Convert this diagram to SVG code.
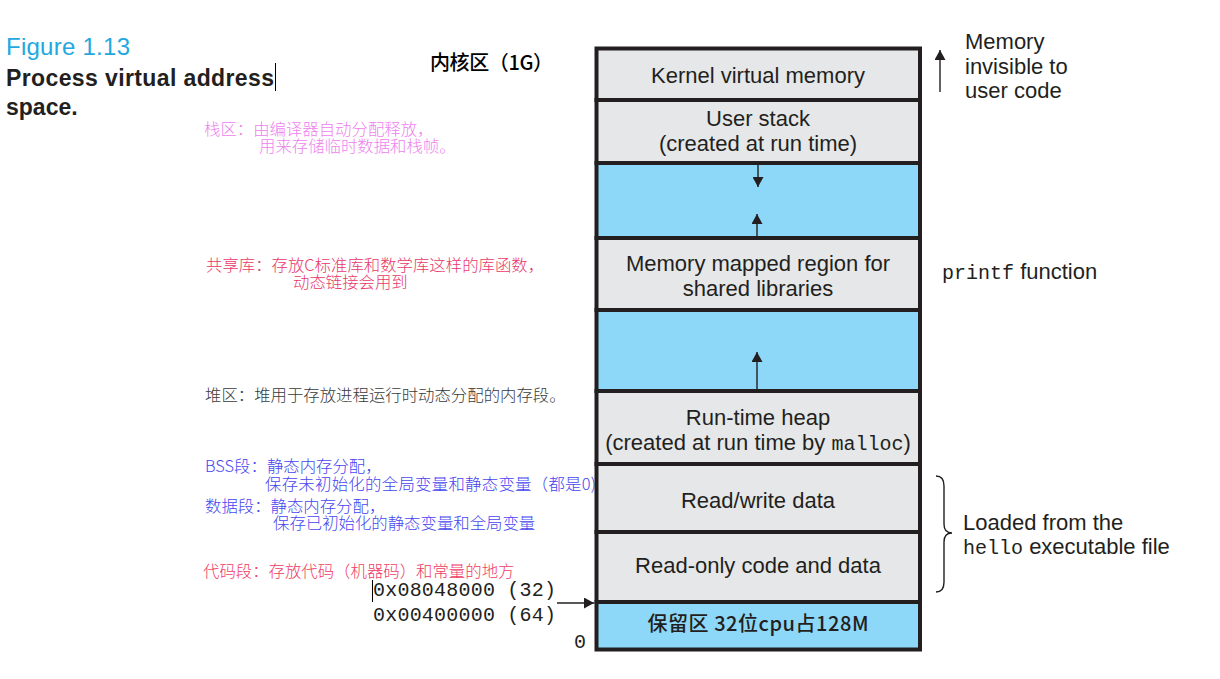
<svg xmlns="http://www.w3.org/2000/svg" width="1220" height="679" viewBox="0 0 1220 679">
<style>
.box{stroke:#231f20;stroke-width:4}
.gray{fill:#e6e7e8}
.blue{fill:#8dd8f8}
.lbl{font-family:"Liberation Sans",Arial,sans-serif;font-size:22px;fill:#231f20;text-anchor:middle}
.side{font-family:"Liberation Sans",Arial,sans-serif;font-size:22px;fill:#231f20}
.mono{font-family:"Liberation Mono","Courier New",monospace;font-size:20px}
.cjk{font-family:"Noto Sans CJK SC",sans-serif;font-size:16.4px;font-weight:300}
.addr{font-family:"Liberation Mono","Courier New",monospace;font-size:20px;fill:#231f20}
.conn{stroke:#231f20;stroke-width:1.4;fill:none}
</style>
<defs>
<marker id="ah" viewBox="0 0 10 10" refX="10" refY="5" markerWidth="10" markerHeight="11" orient="auto" markerUnits="userSpaceOnUse" preserveAspectRatio="none">
<path d="M0,0 L10,5 L0,10 z" fill="#231f20"/>
</marker>
</defs>
<rect width="1220" height="679" fill="#ffffff"/>

<g id="title">
<text x="6" y="55" font-family="'Liberation Sans',Arial,sans-serif" font-size="24" fill="#22a8e0" textLength="124">Figure 1.13</text>
<text x="6" y="86" font-family="'Liberation Sans',Arial,sans-serif" font-size="23" font-weight="bold" fill="#231f20" textLength="268">Process virtual address</text>
<text x="6" y="115" font-family="'Liberation Sans',Arial,sans-serif" font-size="23" font-weight="bold" fill="#231f20">space.</text>
<line x1="275.5" y1="63" x2="275.5" y2="91" stroke="#000" stroke-width="1"/>
</g>

<g id="notes">
<text x="430" y="70" font-family="'Noto Sans CJK SC',sans-serif" font-size="20" font-weight="500" fill="#000" textLength="123">内核区（1G）</text>
<g class="cjk" fill="#ee82ee">
<text x="204" y="135">栈区：由编译器自动分配释放，</text>
<text x="259" y="152">用来存储临时数据和栈帧。</text>
</g>
<g class="cjk" fill="#e8386a">
<text x="206" y="271">共享库：存放C标准库和数学库这样的库函数，</text>
<text x="293" y="288">动态链接会用到</text>
</g>
<text class="cjk" x="205" y="401" fill="#3a3a3a">堆区：堆用于存放进程运行时动态分配的内存段。</text>
<g class="cjk" fill="#4646f0">
<text x="205" y="472">BSS段：静态内存分配，</text>
<text x="265" y="490" textLength="331">保存未初始化的全局变量和静态变量（都是0)</text>
<text x="205" y="512">数据段：静态内存分配，</text>
<text x="273" y="529">保存已初始化的静态变量和全局变量</text>
</g>
<text class="cjk" x="203" y="577" fill="#f03c64">代码段：存放代码（机器码）和常量的地方</text>
<text class="addr" x="373" y="596" textLength="183">0x08048000 (32)</text>
<text class="addr" x="373" y="621" textLength="183">0x00400000 (64)</text>
<text class="addr" x="574" y="648">0</text>
<line x1="372.5" y1="580" x2="372.5" y2="602" stroke="#000" stroke-width="1"/>
</g>

<g id="kernel">
<rect class="box gray" x="596.5" y="48.5" width="323.5" height="51.5"/>
<text class="lbl" x="758" y="83">Kernel virtual memory</text>
</g>
<g id="user-stack">
<rect class="box gray" x="596.5" y="100" width="323.5" height="63"/>
<text class="lbl" x="758" y="126">User stack</text>
<text class="lbl" x="758" y="151">(created at run time)</text>
</g>
<g id="gap-stack">
<rect class="box blue" x="596.5" y="163" width="323.5" height="75"/>
</g>
<g id="shared-libs">
<rect class="box gray" x="596.5" y="238" width="323.5" height="72"/>
<text class="lbl" x="758" y="271">Memory mapped region for</text>
<text class="lbl" x="758" y="296">shared libraries</text>
</g>
<g id="gap-heap">
<rect class="box blue" x="596.5" y="310" width="323.5" height="81"/>
</g>
<g id="heap">
<rect class="box gray" x="596.5" y="391" width="323.5" height="73"/>
<text class="lbl" x="758" y="425">Run-time heap</text>
<text class="lbl" x="758" y="450">(created at run time by <tspan class="mono">malloc</tspan>)</text>
</g>
<g id="rw-data">
<rect class="box gray" x="596.5" y="464" width="323.5" height="68"/>
<text class="lbl" x="758" y="508">Read/write data</text>
</g>
<g id="ro-data">
<rect class="box gray" x="596.5" y="532" width="323.5" height="70"/>
<text class="lbl" x="758" y="573">Read-only code and data</text>
</g>
<g id="reserved">
<rect class="box blue" x="596.5" y="602" width="323.5" height="47.5"/>
<text x="758" y="631" font-family="'Noto Sans CJK SC',sans-serif" font-size="20" font-weight="500" fill="#231f20" text-anchor="middle" textLength="221">保留区 32位cpu占128M</text>
</g>

<g id="annotations">
<text class="side" x="965" y="49">Memory</text>
<text class="side" x="965" y="73.5">invisible to</text>
<text class="side" x="965" y="98">user code</text>
<text class="side" x="942" y="279"><tspan class="mono">printf</tspan> function</text>
<text class="side" x="963" y="530">Loaded from the</text>
<text class="side" x="963" y="554"><tspan class="mono">hello</tspan> executable file</text>
</g>

<g id="connectors">
<line class="conn" x1="758" y1="165" x2="758" y2="187" marker-end="url(#ah)"/>
<line class="conn" x1="757" y1="236" x2="757" y2="214" marker-end="url(#ah)"/>
<line class="conn" x1="757" y1="389" x2="757" y2="352" marker-end="url(#ah)"/>
<line class="conn" x1="940" y1="92" x2="940" y2="50" marker-end="url(#ah)"/>
<line class="conn" x1="557" y1="603" x2="594" y2="603" marker-end="url(#ah)"/>
<path class="conn" d="M936,476 Q944,476 944,486 L944,524 Q944,533 952,533 Q944,533 944,542 L944,582 Q944,592 936,592"/>
</g>
</svg>
